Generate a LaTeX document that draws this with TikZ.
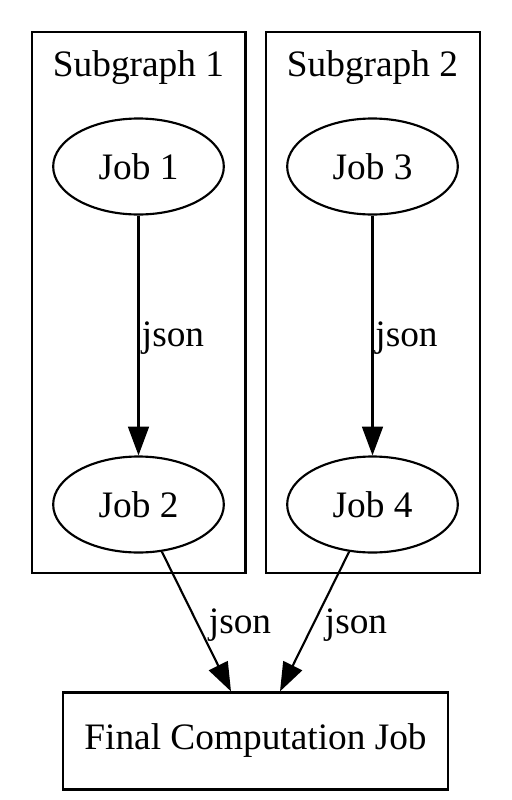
\documentclass[tikz,border=0pt]{standalone}
\usepackage{fontspec}
\setmainfont{Liberation Serif}
\usetikzlibrary{arrows.meta,shapes.geometric}
\begin{document}
\begin{tikzpicture}[x=0.375pt,y=-0.375pt,
  every node/.style={font=\fontsize{14pt}{16pt}\selectfont},
  job/.style={draw,ellipse,line width=0.8pt,minimum width=64pt,minimum height=36pt,inner sep=0pt},
  cluster/.style={draw,rectangle,line width=0.8pt,inner sep=0pt},
  finalbox/.style={draw,rectangle,line width=0.8pt,minimum width=144.4pt,minimum height=36.4pt,inner sep=0pt},
  flow/.style={line width=0.8pt,-{Triangle[length=10.8pt,width=7.8pt]}},
  lbl/.style={anchor=base,inner sep=0pt}]
\useasboundingbox (0,0) rectangle (512,800);
% clusters
\node[cluster,minimum width=80.06pt,minimum height=202.9pt] (c1) at (138.75,302.5) {};
\node[cluster,minimum width=80.25pt,minimum height=202.9pt] (c2) at (373,302.5) {};
\node[lbl] (t1) at (138.5,76) {Subgraph 1};
\node[lbl] (t2) at (372.5,76) {Subgraph 2};
% jobs
\node[job] (j1) at (138.5,166.5) {Job 1};
\node[job] (j2) at (138.5,504.5) {Job 2};
\node[job] (j3) at (372.5,166.5) {Job 3};
\node[job] (j4) at (372.5,504.5) {Job 4};
\node[finalbox] (fin) at (255.5,741) {Final Computation Job};
% edges
\draw[flow] (j1) -- (j2);
\draw[flow] (j3) -- (j4);
\draw[flow] (j2) -- (fin);
\draw[flow] (j4) -- (fin);
% labels
\node[lbl] (l1) at (173,346) {json};
\node[lbl] (l2) at (406.5,346) {json};
\node[lbl] (l3) at (240,633) {json};
\node[lbl] (l4) at (356,633) {json};
\end{tikzpicture}
\end{document}
